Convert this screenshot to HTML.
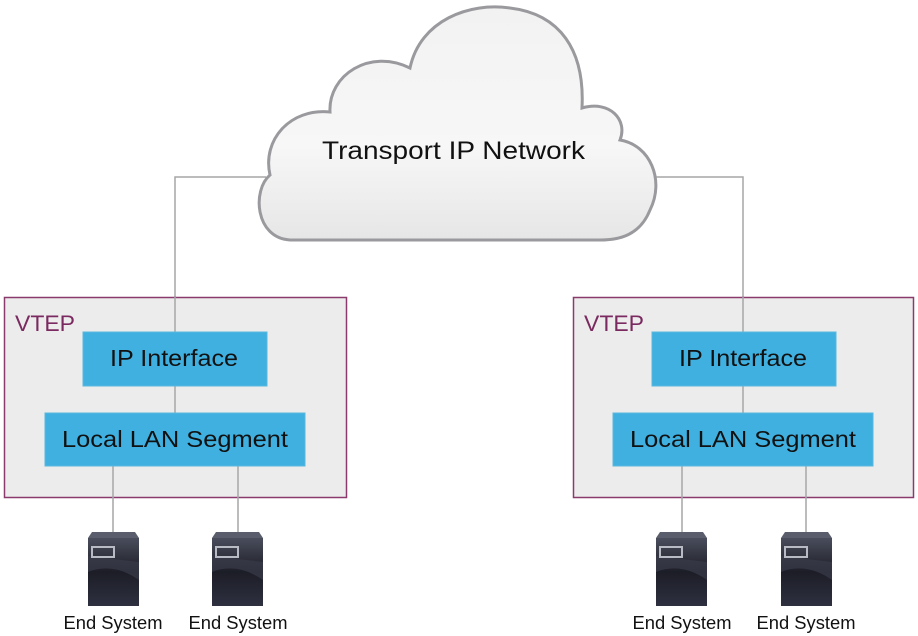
<!DOCTYPE html>
<html><head><meta charset="utf-8"><style>
html,body{margin:0;padding:0;background:#fff;}
svg{display:block;font-family:"Liberation Sans",sans-serif;}
</style></head><body>
<svg width="918" height="636" viewBox="0 0 918 636" xmlns="http://www.w3.org/2000/svg">
<defs>
<linearGradient id="cg" x1="0" y1="0" x2="0" y2="1">
<stop offset="0" stop-color="#f2f2f2"/><stop offset="0.6" stop-color="#f7f7f7"/><stop offset="1" stop-color="#e6e6e6"/>
</linearGradient>
<linearGradient id="sg" x1="0" y1="0" x2="0" y2="1">
<stop offset="0" stop-color="#4a4d5c"/><stop offset="0.5" stop-color="#1c1d26"/><stop offset="1" stop-color="#2e3040"/>
</linearGradient>
<g id="srv">
<path d="M0 6 L4 0 L47 0 L51 6 Z" fill="#5a5d6c"/>
<rect x="0" y="6" width="51" height="68" fill="url(#sg)"/>
<path d="M0 40 Q25 30 51 48 L51 30 L0 24 Z" fill="#3a3c4c" opacity="0.7"/>
<rect x="4" y="15" width="22" height="10" fill="none" stroke="#b8bac4" stroke-width="2"/>
</g>
</defs>
<g stroke="#a6a6a6" stroke-width="1.5" fill="none">
<path d="M266 177 H175 V332"/>
<path d="M650 177 H743 V332"/>
</g>
<path d="M290 240 C255 238 252 190 270 175 C262 140 290 108 330 112 C328 75 370 48 410 68 C420 20 470 2 510 8 C560 14 585 50 582 108 C610 100 628 120 620 140 C650 145 665 180 650 210 C640 235 620 240 600 240 Z" fill="url(#cg)" stroke="#9a9a9e" stroke-width="3"/>
<text x="322" y="159" font-size="25" textLength="263" lengthAdjust="spacingAndGlyphs" fill="#111">Transport IP Network</text>
<rect x="4.5" y="297.5" width="342" height="200" fill="#ececec" stroke="#8b3a6e" stroke-width="1.5"/>
<text x="15" y="331" font-size="22" textLength="60" lengthAdjust="spacingAndGlyphs" fill="#7a2a60">VTEP</text>
<g stroke="#a6a6a6" stroke-width="1.5">
<line x1="175" y1="297" x2="175" y2="413"/>
<line x1="113" y1="466" x2="113" y2="532"/>
<line x1="238" y1="466" x2="238" y2="532"/>
</g>
<rect x="83" y="332" width="184" height="54" fill="#3fb0e0" stroke="#5bb8de"/>
<text x="110" y="366" font-size="23" textLength="128" lengthAdjust="spacingAndGlyphs" fill="#111">IP Interface</text>
<rect x="45" y="413" width="260" height="53" fill="#3fb0e0" stroke="#5bb8de"/>
<text x="62" y="447" font-size="23" textLength="226" lengthAdjust="spacingAndGlyphs" fill="#111">Local LAN Segment</text>
<rect x="573.5" y="297.5" width="340" height="200" fill="#ececec" stroke="#8b3a6e" stroke-width="1.5"/>
<text x="584" y="331" font-size="22" textLength="60" lengthAdjust="spacingAndGlyphs" fill="#7a2a60">VTEP</text>
<g stroke="#a6a6a6" stroke-width="1.5">
<line x1="743" y1="297" x2="743" y2="413"/>
<line x1="682" y1="466" x2="682" y2="532"/>
<line x1="806" y1="466" x2="806" y2="532"/>
</g>
<rect x="652" y="332" width="184" height="54" fill="#3fb0e0" stroke="#5bb8de"/>
<text x="679" y="366" font-size="23" textLength="128" lengthAdjust="spacingAndGlyphs" fill="#111">IP Interface</text>
<rect x="613" y="413" width="260" height="53" fill="#3fb0e0" stroke="#5bb8de"/>
<text x="630" y="447" font-size="23" textLength="226" lengthAdjust="spacingAndGlyphs" fill="#111">Local LAN Segment</text>
<use href="#srv" x="88" y="532"/>
<use href="#srv" x="212" y="532"/>
<use href="#srv" x="656" y="532"/>
<use href="#srv" x="781" y="532"/>
<g font-size="18" fill="#111" text-anchor="middle">
<text x="113" y="629" textLength="99" lengthAdjust="spacingAndGlyphs">End System</text>
<text x="238" y="629" textLength="99" lengthAdjust="spacingAndGlyphs">End System</text>
<text x="682" y="629" textLength="99" lengthAdjust="spacingAndGlyphs">End System</text>
<text x="806" y="629" textLength="99" lengthAdjust="spacingAndGlyphs">End System</text>
</g>
</svg>
</body></html>
